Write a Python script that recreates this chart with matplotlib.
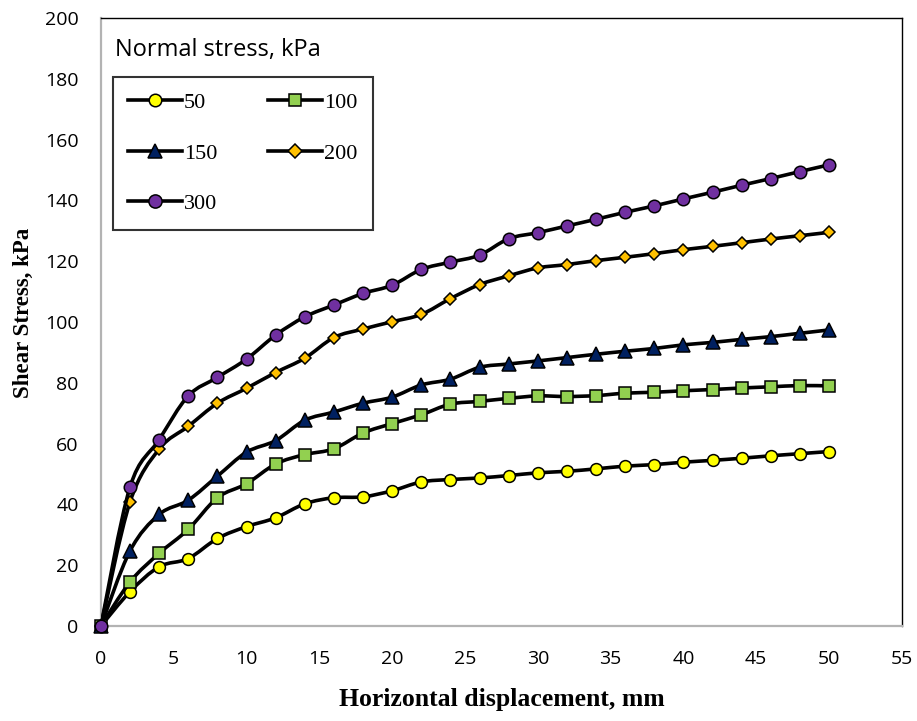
import matplotlib
matplotlib.use("Agg")
import matplotlib.pyplot as plt
import numpy as np
from matplotlib.path import Path
from matplotlib.patches import PathPatch
from matplotlib.lines import Line2D

# --- data ---
displacement = [0, 2, 4, 6, 8, 10, 12, 14, 16, 18, 20, 22, 24, 26, 28, 30,
                32, 34, 36, 38, 40, 42, 44, 46, 48, 50]

stress_50 = [0, 11.3, 19.5, 22.2, 28.8, 32.7, 35.6, 40.2, 42.2, 42.5, 44.5, 47.4, 48.2,
             48.7, 49.5, 50.4, 50.9, 51.7, 52.6, 53.1, 53.9, 54.5, 55.2, 56.0, 56.7, 57.4]
stress_100 = [0, 14.5, 23.9, 31.8, 42.2, 46.8, 53.3, 56.4, 58.3, 63.5, 66.6, 69.5, 73.0,
              73.9, 74.9, 75.7, 75.5, 75.8, 76.6, 76.9, 77.4, 77.8, 78.3, 78.7, 79.1, 79.0]
stress_150 = [0, 24.7, 36.7, 41.4, 49.3, 57.2, 61.0, 67.7, 70.4, 73.3, 75.3, 79.3, 81.2,
              85.1, 86.2, 87.2, 88.3, 89.4, 90.4, 91.3, 92.5, 93.3, 94.3, 95.2, 96.3, 97.4]
stress_200 = [0, 40.8, 58.2, 65.7, 73.3, 78.2, 83.4, 88.1, 94.9, 97.7, 100.1, 102.5, 107.7,
              112.3, 115.2, 117.8, 118.9, 120.2, 121.3, 122.5, 123.8, 124.9, 126.1, 127.3,
              128.4, 129.5]
stress_300 = [0, 45.7, 61.3, 75.7, 81.8, 87.8, 95.7, 101.7, 105.6, 109.4, 112.1, 117.3,
              119.7, 122.0, 127.4, 129.4, 131.6, 133.8, 136.1, 138.2, 140.5, 142.7, 145.0,
              147.2, 149.5, 151.7]

labels = ["50", "100", "150", "200", "300"]
series = [stress_50, stress_100, stress_150, stress_200, stress_300]
face_colors = ["#FFFF00", "#92D050", "#002060", "#FFC000", "#7030A0"]
markers = ["o", "s", "^", "D", "o"]
marker_sizes = [8.5, 8.5, 9.5, 6.5, 9]

TICK_FONT = "Open Sans"
SERIF = "Liberation Serif"


def smooth_path(x, y):
    """Excel-style smoothed line: cubic Bezier segments through the points."""
    pts = np.column_stack([x, y]).astype(float)
    n = len(pts)
    verts = [pts[0]]
    codes = [Path.MOVETO]
    for i in range(n - 1):
        p0 = pts[i - 1] if i > 0 else pts[i]
        p1 = pts[i]
        p2 = pts[i + 1]
        p3 = pts[i + 2] if i + 2 < n else pts[i + 1]
        c1 = p1 + (p2 - p0) / 6.0
        c2 = p2 - (p3 - p1) / 6.0
        verts += [c1, c2, p2]
        codes += [Path.CURVE4] * 3
    return Path(verts, codes)


fig = plt.figure(figsize=(9.17, 7.21), dpi=100)
ax = fig.add_axes([0.110, 0.1317, 0.8735, 0.8433])

handles = []
for i, (vals, lab) in enumerate(zip(series, labels)):
    patch = PathPatch(smooth_path(displacement, vals), facecolor="none",
                      edgecolor="black", linewidth=2.6, zorder=2 + i * 2,
                      capstyle="round", joinstyle="round")
    ax.add_patch(patch)
    ax.plot(displacement, vals, linestyle="none", marker=markers[i],
            markersize=marker_sizes[i], markerfacecolor=face_colors[i],
            markeredgecolor="black", markeredgewidth=1.1, zorder=3 + i * 2,
            clip_on=False)
    handles.append(Line2D([], [], color="black", linewidth=2.6, marker=markers[i],
                          markersize=marker_sizes[i] + 0.5, markerfacecolor=face_colors[i],
                          markeredgecolor="black", markeredgewidth=1.1, label=lab))

ax.set_xlim(0, 55)
ax.set_ylim(0, 200)
ax.set_xticks(np.arange(0, 56, 5))
ax.set_yticks(np.arange(0, 201, 20))
ax.tick_params(length=0, labelsize=14)
ax.tick_params(axis="x", pad=17)
ax.tick_params(axis="y", pad=16)
for t in ax.get_xticklabels() + ax.get_yticklabels():
    t.set_fontfamily(TICK_FONT)

for side in ["left", "bottom"]:
    ax.spines[side].set_color("#B3B3B3")
    ax.spines[side].set_linewidth(1.6)
for side in ["top", "right"]:
    ax.spines[side].set_color("black")
    ax.spines[side].set_linewidth(1.0)

ax.set_xlabel("Horizontal displacement, mm", fontfamily=SERIF, fontweight="bold",
              fontsize=18.5, labelpad=15)
ax.set_ylabel("Shear Stress, kPa", fontfamily=SERIF, fontweight="bold",
              fontsize=16.5)
ax.yaxis.set_label_coords(-0.084, 0.515)

# legend, row-major order as in the reference
order = [0, 2, 4, 1, 3]
leg = ax.legend([handles[k] for k in order], [labels[k] for k in order],
                ncol=2, loc="upper left", bbox_to_anchor=(0.015, 0.903),
                borderaxespad=0, frameon=True, fancybox=False,
                prop={"family": SERIF, "size": 16}, handlelength=2.4,
                handletextpad=0.1, labelspacing=1.35, columnspacing=2.3,
                borderpad=0.7)
leg.get_frame().set_edgecolor("black")
leg.get_frame().set_linewidth(1.5)
leg.set_zorder(20)

ax.text(0.0175, 0.947, "Normal stress, kPa", transform=ax.transAxes,
        fontfamily=TICK_FONT, fontsize=17, va="center", ha="left", zorder=21)

fig.savefig("out.png", dpi=100, facecolor="white")
